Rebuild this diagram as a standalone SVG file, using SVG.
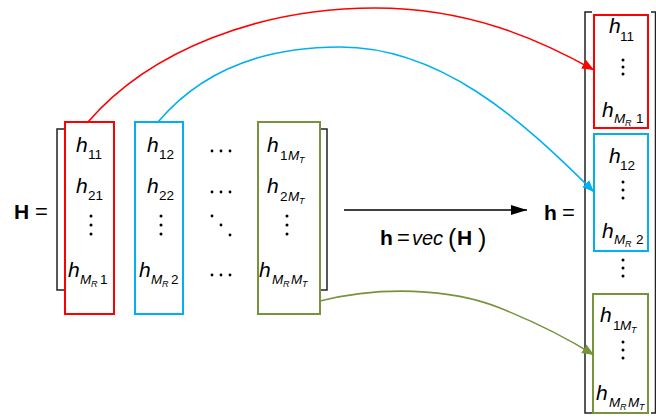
<svg xmlns="http://www.w3.org/2000/svg" width="656" height="419" viewBox="0 0 656 419">
<style>
.h{font-family:"Liberation Sans",sans-serif;font-style:italic;font-size:21px;fill:#000}
.s{font-family:"Liberation Sans",sans-serif;font-size:13.5px;fill:#000}
.si{font-family:"Liberation Sans",sans-serif;font-style:italic;font-size:13.5px;fill:#000}
.ss{font-family:"Liberation Sans",sans-serif;font-style:italic;font-size:9px;fill:#000}
.b{font-family:"Liberation Sans",sans-serif;font-weight:bold;font-size:21px;fill:#000}
.eq{font-family:"Liberation Sans",sans-serif;font-size:22px;fill:#000}
.it{font-family:"Liberation Sans",sans-serif;font-style:italic;font-size:20px;fill:#000}
.p{font-family:"Liberation Sans",sans-serif;font-size:25px;fill:#000}
.br{fill:none;stroke:#222;stroke-width:1.5}
.box{fill:none;stroke-width:2}
.red{stroke:#ff0000}.blue{stroke:#00b0f0}.green{stroke:#77933c}
.c{fill:none;stroke-width:1.6}
.d{fill:#000}
</style>
<defs>
<marker id="ar" markerWidth="12" markerHeight="10" refX="12" refY="5" orient="auto" markerUnits="userSpaceOnUse"><path d="M0,0 L12,5 L0,10 z" fill="#ff0000"/></marker>
<marker id="ab" markerWidth="12" markerHeight="10" refX="12" refY="5" orient="auto" markerUnits="userSpaceOnUse"><path d="M0,0 L12,5 L0,10 z" fill="#00b0f0"/></marker>
<marker id="ag" markerWidth="12" markerHeight="10" refX="12" refY="5" orient="auto" markerUnits="userSpaceOnUse"><path d="M0,0 L12,5 L0,10 z" fill="#77933c"/></marker>
<marker id="ak" markerWidth="16" markerHeight="10" refX="16" refY="5" orient="auto" markerUnits="userSpaceOnUse"><path d="M0,0 L16,5 L0,10 z" fill="#000"/></marker>
</defs>
<rect width="656" height="419" fill="#fff"/>

<g id="H-matrix">
<text class="b" x="14" y="219">H</text>
<text class="eq" x="35" y="219">=</text>
<path class="br" d="M64,129 H57 V290 H64"/>
<path class="br" d="M320,129 H327 V290 H320"/>
</g>

<g id="col1">
<rect class="box red" x="65" y="122" width="49" height="192"/>
<text class="h" x="76" y="152">h</text><text class="s" x="88" y="159">11</text>
<text class="h" x="76" y="193">h</text><text class="s" x="88" y="200">21</text>
<circle class="d" cx="91" cy="216" r="1.5"/><circle class="d" cx="91" cy="225" r="1.5"/><circle class="d" cx="91" cy="234" r="1.5"/>
<text class="h" x="68" y="277">h</text><text class="si" x="80" y="284">M</text><text class="ss" x="91" y="287">R</text><text class="s" x="100" y="284">1</text>
</g>

<g id="col2">
<rect class="box blue" x="135" y="122" width="48" height="192"/>
<text class="h" x="147" y="152">h</text><text class="s" x="159" y="159">12</text>
<text class="h" x="147" y="193">h</text><text class="s" x="159" y="200">22</text>
<circle class="d" cx="161" cy="216" r="1.5"/><circle class="d" cx="161" cy="225" r="1.5"/><circle class="d" cx="161" cy="234" r="1.5"/>
<text class="h" x="139" y="277">h</text><text class="si" x="151" y="284">M</text><text class="ss" x="162" y="287">R</text><text class="s" x="171" y="284">2</text>
</g>

<g id="dots-col">
<circle class="d" cx="212" cy="151" r="1.4"/><circle class="d" cx="221" cy="151" r="1.4"/><circle class="d" cx="230" cy="151" r="1.4"/>
<circle class="d" cx="212" cy="192" r="1.4"/><circle class="d" cx="221" cy="192" r="1.4"/><circle class="d" cx="230" cy="192" r="1.4"/>
<circle class="d" cx="212" cy="216" r="1.4"/><circle class="d" cx="221" cy="225" r="1.4"/><circle class="d" cx="230" cy="235" r="1.4"/>
<circle class="d" cx="212" cy="275" r="1.4"/><circle class="d" cx="221" cy="275" r="1.4"/><circle class="d" cx="230" cy="275" r="1.4"/>
</g>

<g id="col3">
<rect class="box green" x="258" y="122" width="62" height="192"/>
<text class="h" x="267" y="152">h</text><text class="s" x="280" y="160">1</text><text class="si" x="288" y="160">M</text><text class="ss" x="299" y="163">T</text>
<text class="h" x="267" y="193">h</text><text class="s" x="280" y="201">2</text><text class="si" x="288" y="201">M</text><text class="ss" x="299" y="204">T</text>
<circle class="d" cx="287" cy="216" r="1.5"/><circle class="d" cx="287" cy="225" r="1.5"/><circle class="d" cx="287" cy="234" r="1.5"/>
<text class="h" x="259" y="277">h</text><text class="si" x="272" y="284">M</text><text class="ss" x="283" y="287">R</text><text class="si" x="291" y="284">M</text><text class="ss" x="302" y="287">T</text>
</g>

<g id="vec-label">
<text class="b" x="380" y="245">h</text>
<text class="eq" x="397" y="245">=</text>
<text class="it" x="412" y="245">vec</text>
<text class="p" x="448" y="247">(</text>
<text class="b" x="457" y="245">H</text>
<text class="p" x="478" y="247">)</text>
</g>

<g id="h-vector">
<text class="b" x="544" y="220">h</text>
<text class="eq" x="562" y="220">=</text>
<path class="br" d="M592,12 H585 V413 H592"/>
<path class="br" d="M651,12 H655.5 V413 H651"/>
</g>

<g id="vec-red">
<rect class="box red" x="594" y="15" width="54" height="113"/>
<text class="h" x="609" y="33">h</text><text class="s" x="620" y="41">11</text>
<circle class="d" cx="623" cy="60" r="1.5"/><circle class="d" cx="623" cy="67" r="1.5"/><circle class="d" cx="623" cy="74" r="1.5"/>
<text class="h" x="602" y="117">h</text><text class="si" x="614" y="123">M</text><text class="ss" x="625" y="126">R</text><text class="s" x="636" y="123">1</text>
</g>

<g id="vec-blue">
<rect class="box blue" x="594" y="134" width="54" height="117"/>
<text class="h" x="609" y="163">h</text><text class="s" x="620" y="170">12</text>
<circle class="d" cx="623" cy="182" r="1.5"/><circle class="d" cx="623" cy="190" r="1.5"/><circle class="d" cx="623" cy="198" r="1.5"/>
<text class="h" x="602" y="238">h</text><text class="si" x="614" y="244">M</text><text class="ss" x="625" y="247">R</text><text class="s" x="636" y="244">2</text>
</g>

<g id="vec-dots">
<circle class="d" cx="623" cy="260" r="1.5"/><circle class="d" cx="623" cy="268" r="1.5"/><circle class="d" cx="623" cy="276" r="1.5"/>
</g>

<g id="vec-green">
<rect class="box green" x="593" y="294" width="55" height="119"/>
<text class="h" x="600" y="322">h</text><text class="s" x="613" y="330">1</text><text class="si" x="620" y="330">M</text><text class="ss" x="631" y="333">T</text>
<circle class="d" cx="623" cy="342" r="1.5"/><circle class="d" cx="623" cy="350" r="1.5"/><circle class="d" cx="623" cy="358" r="1.5"/>
<text class="h" x="596" y="400">h</text><text class="si" x="609" y="407">M</text><text class="ss" x="620" y="410">R</text><text class="si" x="628" y="407">M</text><text class="ss" x="639" y="410">T</text>
</g>

<g id="connectors">
<path class="c red" d="M88,122 C150,50 260,8 375,8 C470,8 540,40 594,70" marker-end="url(#ar)"/>
<path class="c blue" d="M158,122 C200,72 260,47 340,47 C440,47 520,118 594,192" marker-end="url(#ab)"/>
<path class="c green" d="M320,301 C380,286 450,288 500,308 C540,324 570,340 594,355" marker-end="url(#ag)"/>
<line x1="344" y1="210" x2="527" y2="210" stroke="#000" stroke-width="1.6" marker-end="url(#ak)"/>
</g>
</svg>
